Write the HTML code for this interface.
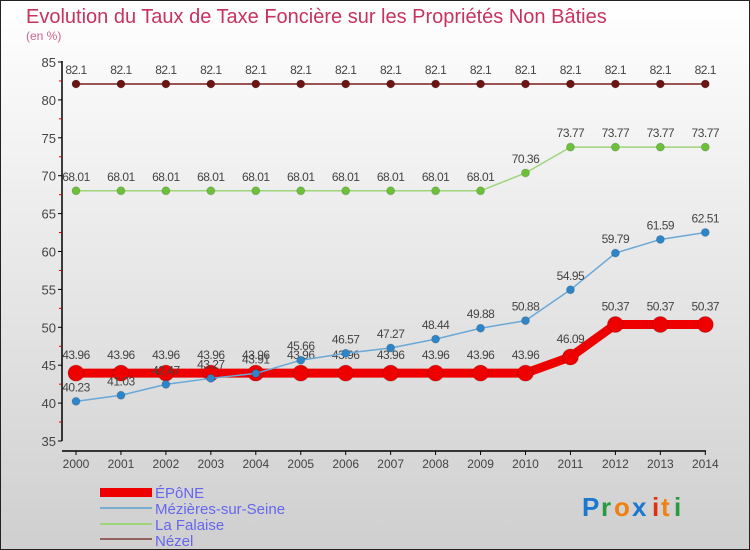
<!DOCTYPE html>
<html><head><meta charset="utf-8"><style>
body{margin:0}
#c{width:750px;height:550px;position:relative;background:linear-gradient(#ffffff,#cfcfcf);box-sizing:border-box;border:1px solid #222;overflow:hidden;font-family:"Liberation Sans",sans-serif}
</style></head><body>
<div id="c">
<svg id="s" width="750" height="550" style="position:absolute;left:-1px;top:-1px">
<text x="26" y="23" font-size="20" fill="#c8325e">Evolution du Taux de Taxe Foncière sur les Propriétés Non Bâties</text>
<text x="26" y="40" font-size="12" fill="#d0608a">(en %)</text>
<g id="g"></g>
<g>
<rect x="100" y="488" width="52" height="9" fill="#e00"/>
<text x="155" y="498" font-size="15" fill="#6666ee">ÉPôNE</text>
<rect x="100" y="507" width="52" height="2" fill="#7aaed0"/>
<text x="155" y="514" font-size="15" fill="#6666ee">Mézières-sur-Seine</text>
<rect x="100" y="523" width="52" height="2" fill="#9ed57a"/>
<text x="155" y="530" font-size="15" fill="#6666ee">La Falaise</text>
<rect x="100" y="538" width="52" height="2" fill="#946060"/>
<text x="155" y="546" font-size="15" fill="#6666ee">Nézel</text>
</g>
<g font-size="26" font-weight="bold">
<text x="582" y="516" fill="#1a78d0">P</text><text x="601" y="516" fill="#2a9a40">r</text><text x="614" y="516" fill="#f08010">o</text><text x="632" y="516" fill="#1a78d0">x</text><text x="652" y="516" fill="#e03010">i</text><text x="661" y="516" fill="#f08010">t</text><text x="674" y="516" fill="#2a9a40">i</text>
</g>
</svg>
</div>
<script>
const years=[2000,2001,2002,2003,2004,2005,2006,2007,2008,2009,2010,2011,2012,2013,2014];
const epone=[43.96,43.96,43.96,43.96,43.96,43.96,43.96,43.96,43.96,43.96,43.96,46.09,50.37,50.37,50.37];
const mezieres=[40.23,41.03,42.47,43.27,43.91,45.66,46.57,47.27,48.44,49.88,50.88,54.95,59.79,61.59,62.51];
const falaise=[68.01,68.01,68.01,68.01,68.01,68.01,68.01,68.01,68.01,68.01,70.36,73.77,73.77,73.77,73.77];
const nezel=[82.1,82.1,82.1,82.1,82.1,82.1,82.1,82.1,82.1,82.1,82.1,82.1,82.1,82.1,82.1];
const yTicks=[35,40,45,50,55,60,65,70,75,80,85];
const NS='http://www.w3.org/2000/svg';
const g=document.getElementById('g');
const X=i=>76+i*44.95, Y=v=>441-(v-35)*7.58;
function mk(t,a,p){const e=document.createElementNS(NS,t);for(const k in a)e.setAttribute(k,a[k]);(p||g).appendChild(e);return e;}
mk('line',{x1:62,y1:61,x2:62,y2:441,stroke:'#000','stroke-width':1.5});
mk('line',{x1:62,y1:451,x2:706,y2:451,stroke:'#000','stroke-width':1.5});
yTicks.forEach((v,i)=>{
 mk('line',{x1:58,y1:Y(v),x2:62,y2:Y(v),stroke:'#000'});
 if(i<yTicks.length-1)mk('line',{x1:59,y1:Y(v+2.5),x2:62,y2:Y(v+2.5),stroke:'#d00'});
 const t=mk('text',{x:56,y:Y(v)+5,'font-size':13,fill:'#444','text-anchor':'end'});t.textContent=v;
 
 
});
years.forEach((y,i)=>{
 mk('line',{x1:X(i),y1:451,x2:X(i),y2:455,stroke:'#000'});
 const t=mk('text',{x:X(i),y:468,'font-size':12,fill:'#444','text-anchor':'middle'});t.textContent=y;
 
 
});
function series(d,color,w,r,name,mcolor){
 const s=mk('g',{});
 
 
 mk('polyline',{points:d.map((v,i)=>X(i)+','+Y(v)).join(' '),fill:'none',stroke:color,'stroke-width':w,'stroke-linejoin':'round'},s);
 d.forEach((v,i)=>{
  const c=mk('circle',{cx:X(i),cy:Y(v),r:r,fill:mcolor,stroke:'rgba(0,0,0,0.15)'},s);
  
  
  const t=mk('text',{x:X(i),y:Y(v)-(r+6),'font-size':12,fill:'#444','text-anchor':'middle','letter-spacing':'-0.5'},s);t.textContent=v;
  
  
 });
}
series(nezel,'#7a1e1e',1.5,4,'nezel','#6a1414');
series(falaise,'#9ed57a',1.5,4,'la-falaise','#6cc03a');
series(epone,'#ee0000',9,8,'epone','#ee0000');
series(mezieres,'#6aa8d8',1.5,4,'mezieres','#2e86c8');
</script>
</body></html>
